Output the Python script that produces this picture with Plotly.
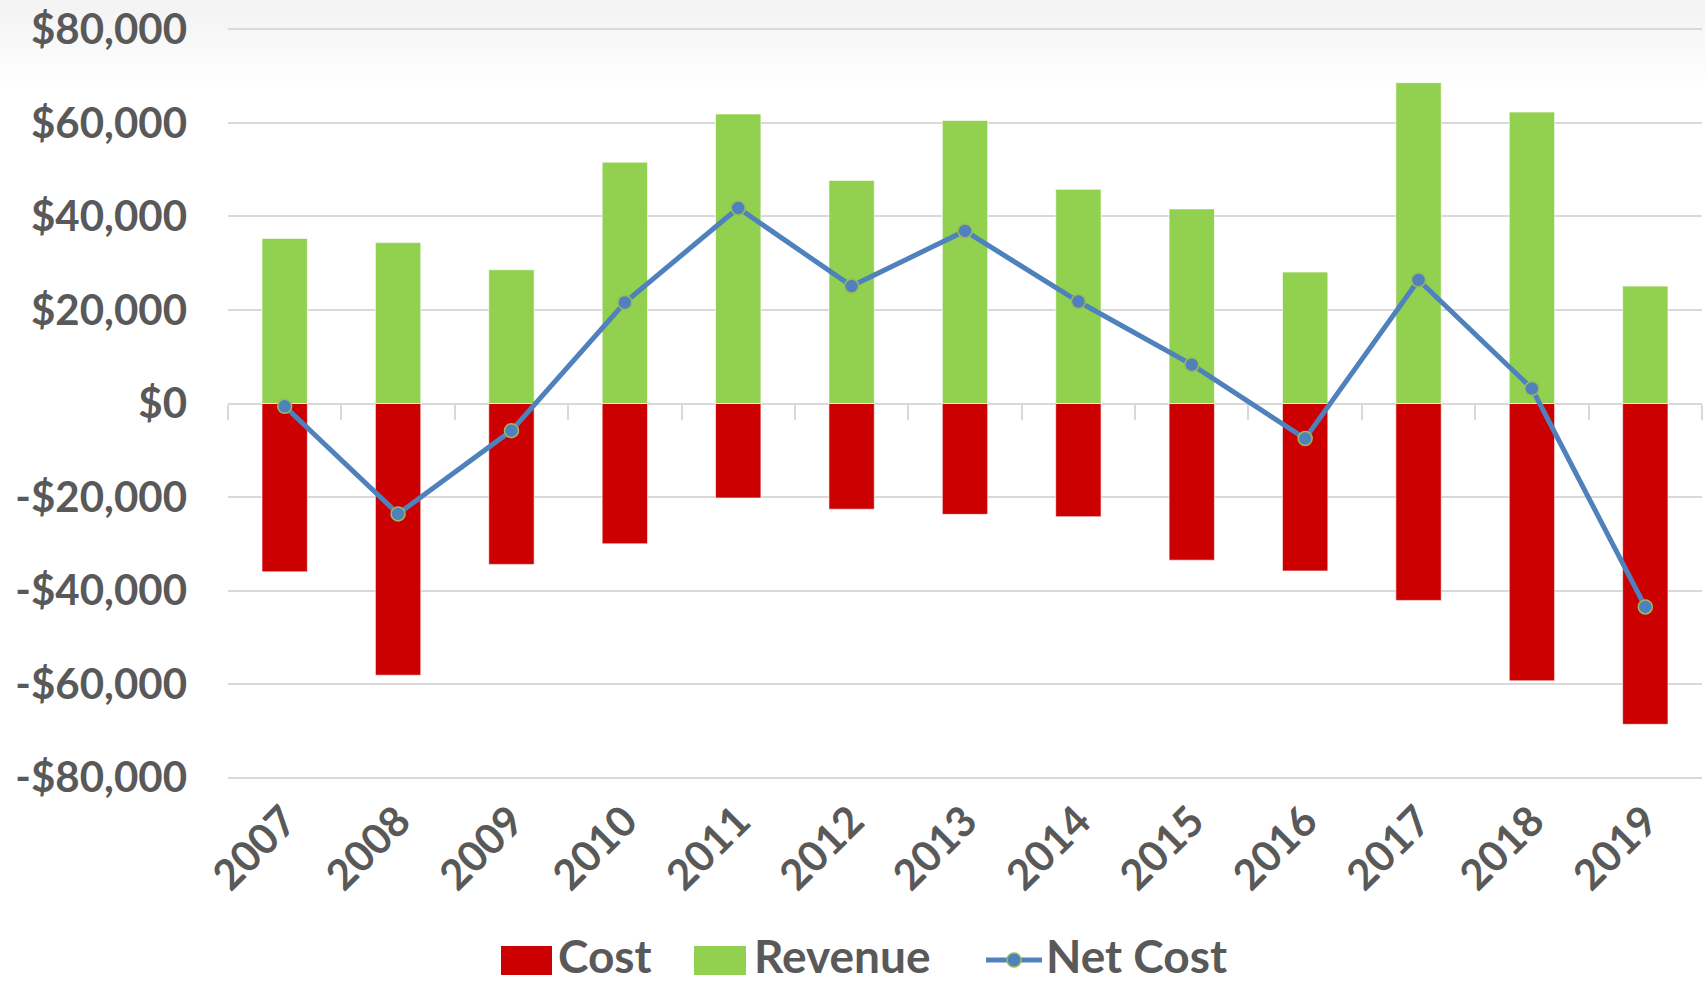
import plotly.graph_objects as go

# ---------------- data ----------------
years = ["2007", "2008", "2009", "2010", "2011", "2012", "2013",
         "2014", "2015", "2016", "2017", "2018", "2019"]
cost = [-36000, -58100, -34400, -30000, -20200, -22600, -23700,
        -24200, -33500, -35800, -42100, -59300, -68600]
revenue = [35300, 34400, 28600, 51600, 61900, 47700, 60500,
           45800, 41600, 28100, 68600, 62300, 25100]
net_cost = [-600, -23600, -5800, 21600, 41800, 25100, 36900,
            21800, 8300, -7500, 26400, 3200, -43500]
y_tickvals = [-80000, -60000, -40000, -20000, 0, 20000, 40000, 60000, 80000]
y_ticktext = ["-$80,000", "-$60,000", "-$40,000", "-$20,000", "$0",
              "$20,000", "$40,000", "$60,000", "$80,000"]
legend_names = ["Cost", "Revenue", "Net Cost"]

# ---------------- style ----------------
W, H = 1705, 983
L, R, T, B = 228, 3, 27, 203
FONT = "Lato"
TXT = "#595959"
GRID = "#d9d9d9"
RED = "#cc0000"
GREEN = "#92d050"
BLUE = "#4f81bd"
OLIVE = "#9bbb59"


def px_x(px):
    return (px - L) / (W - L - R)


def px_y(py):
    return (H - B - py) / (H - T - B)


fig = go.Figure()

fig.add_trace(go.Bar(x=years, y=cost, name=legend_names[0], marker_color=RED,
                     marker_line_color="rgba(255,255,255,0.6)", marker_line_width=1,
                     width=0.4, showlegend=False))
fig.add_trace(go.Bar(x=years, y=revenue, name=legend_names[1], marker_color=GREEN,
                     marker_line_color="rgba(255,255,255,0.6)", marker_line_width=1,
                     width=0.4, showlegend=False))
fig.add_trace(go.Scatter(x=years, y=net_cost, name=legend_names[2], mode="lines+markers",
                         line=dict(color=BLUE, width=5),
                         marker=dict(size=14, color=BLUE, line=dict(color=OLIVE, width=1.5)),
                         showlegend=False))
# invisible trace to carry the tick-mark axis at y = 0
fig.add_trace(go.Scatter(x=[0], y=[0], xaxis="x2", yaxis="y", mode="markers",
                         marker=dict(opacity=0), hoverinfo="skip", showlegend=False))

shapes = []
# faint gradient at the top of the picture
n = 12
for i in range(n):
    y_bottom = 8 + i * 7
    shapes.append(dict(type="rect", xref="paper", yref="paper",
                       x0=px_x(0), x1=px_x(W), y0=px_y(y_bottom), y1=px_y(0),
                       fillcolor="#d3dde3", opacity=0.03, line_width=0, layer="below"))

# custom legend symbols
leg_y = 955
shapes.append(dict(type="rect", xref="paper", yref="paper",
                   x0=px_x(501), x1=px_x(552), y0=px_y(975), y1=px_y(946),
                   fillcolor=RED, line_width=0))
shapes.append(dict(type="rect", xref="paper", yref="paper",
                   x0=px_x(694), x1=px_x(746), y0=px_y(975), y1=px_y(946),
                   fillcolor=GREEN, line_width=0))
shapes.append(dict(type="line", xref="paper", yref="paper",
                   x0=px_x(986), x1=px_x(1042), y0=px_y(960), y1=px_y(960),
                   line=dict(color=BLUE, width=5)))
shapes.append(dict(type="circle", xref="paper", yref="paper",
                   x0=px_x(1007), x1=px_x(1021), y0=px_y(960 + 7), y1=px_y(960 - 7),
                   fillcolor=BLUE, line=dict(color=OLIVE, width=1.5)))

annotations = []
for name, xpx in zip(legend_names, [557, 753, 1045]):
    annotations.append(dict(text=name, xref="paper", yref="paper",
                            x=px_x(xpx), y=px_y(leg_y), xanchor="left", yanchor="middle",
                            showarrow=False, borderpad=0,
                            font=dict(family=FONT, size=46, color=TXT, weight="bold")))

fig.update_layout(
    width=W, height=H,
    margin=dict(l=L, r=R, t=T, b=B, autoexpand=False),
    paper_bgcolor="white",
    plot_bgcolor="rgba(0,0,0,0)",
    barmode="relative",
    showlegend=False,
    shapes=shapes,
    annotations=annotations,
    xaxis=dict(type="category", range=[-0.5, 12.5], showgrid=False, zeroline=False,
               showline=False, ticks="", tickangle=-45, ticklabelstandoff=7,
               tickfont=dict(family=FONT, size=42, color=TXT, weight="bold")),
    xaxis2=dict(overlaying="x", anchor="free", position=0.5, side="bottom",
                range=[-0.5, 12.5], tickmode="array",
                tickvals=[i - 0.5 for i in range(14)], ticks="outside", ticklen=15,
                tickwidth=2, tickcolor=GRID, showticklabels=False, showgrid=False,
                zeroline=False, showline=False),
    yaxis=dict(range=[-80500, 80500], tickmode="array", tickvals=y_tickvals,
               ticktext=y_ticktext, showgrid=True, gridcolor=GRID, gridwidth=2,
               zeroline=True, zerolinecolor=GRID, zerolinewidth=2, showline=False,
               ticks="", ticklabelstandoff=40,
               tickfont=dict(family=FONT, size=42, color=TXT, weight="bold")),
)

fig.write_html("out.html", config={"displayModeBar": False},
               post_script="document.body.style.margin='0px';")
